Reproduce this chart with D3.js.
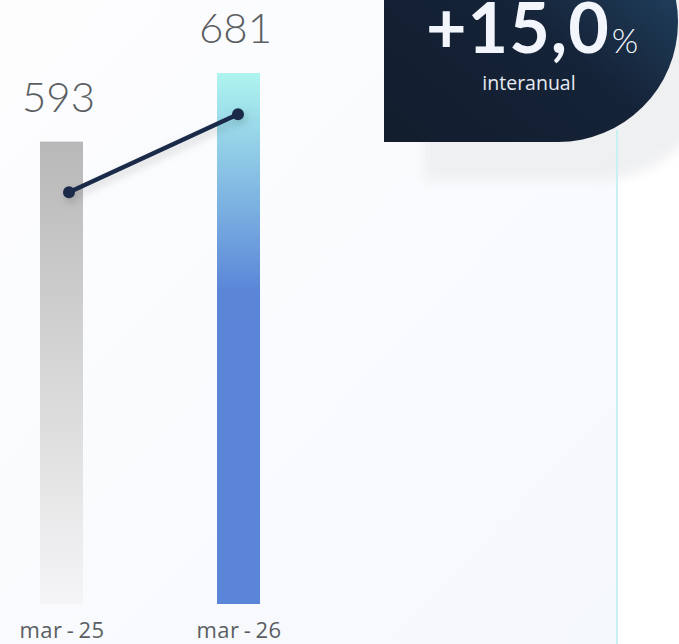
<!DOCTYPE html>
<html><head><meta charset="utf-8">
<script src="https://cdn.jsdelivr.net/npm/d3@7"></script>
<style>html,body{margin:0;padding:0;background:#fff;overflow:hidden}</style>
</head><body>
<svg id="c" width="679" height="644"></svg>
<script>
const categories = ["mar-25", "mar-26"];
const values = [593, 681];
const lineValues = [528, 628];
const badgeValue = "+15,0";
const badgeUnit = "%";
const badgeLabel = "interanual";

const W = 679, H = 644;
const svg = d3.select("#c");
const defs = svg.append("defs");

// background
const bg = defs.append("linearGradient").attr("id","bg").attr("x1","0").attr("y1","0").attr("x2","1").attr("y2","1");
bg.append("stop").attr("offset","0").attr("stop-color","#fdfdfe");
bg.append("stop").attr("offset","1").attr("stop-color","#f5f8fd");
svg.append("rect").attr("width",W).attr("height",H).attr("fill","#fff");
svg.append("rect").attr("x",0).attr("y",0).attr("width",617).attr("height",H).attr("fill","url(#bg)");

// gradients for bars
const g0 = defs.append("linearGradient").attr("id","gBar0").attr("gradientUnits","userSpaceOnUse")
  .attr("x1",0).attr("x2",0).attr("y1",141).attr("y2",604);
g0.append("stop").attr("offset","0").attr("stop-color","#b8b8b8");
g0.append("stop").attr("offset","1").attr("stop-color","#f5f5f7");
const g1 = defs.append("linearGradient").attr("id","gBar1").attr("gradientUnits","userSpaceOnUse")
  .attr("x1",0).attr("x2",0).attr("y1",73).attr("y2",604);
g1.append("stop").attr("offset","0").attr("stop-color","#aef4ef");
g1.append("stop").attr("offset","0.41").attr("stop-color","#5b86d8");
g1.append("stop").attr("offset","1").attr("stop-color","#5a85d8");

// badge gradient & shadows
const gb = defs.append("linearGradient").attr("id","gBadge").attr("x1","0").attr("y1","1").attr("x2","1").attr("y2","0");
gb.append("stop").attr("offset","0").attr("stop-color","#121d2d");
gb.append("stop").attr("offset","0.5").attr("stop-color","#152338");
gb.append("stop").attr("offset","1").attr("stop-color","#264e70");
const blur = defs.append("filter").attr("id","blur").attr("x","-30%").attr("y","-30%").attr("width","160%").attr("height","160%");
blur.append("feGaussianBlur").attr("stdDeviation",6);
const ds = defs.append("filter").attr("id","ds").attr("x","-20%").attr("y","-50%").attr("width","140%").attr("height","200%");
ds.append("feDropShadow").attr("dx",2).attr("dy",4).attr("stdDeviation",4).attr("flood-color","#000").attr("flood-opacity",0.18);

// scales
const y = d3.scaleLinear().domain([0, 681]).range([604, 73]);
const x = d3.scalePoint().domain(categories).range([61.5, 238.5]);
const xl = d3.scalePoint().domain(categories).range([69, 238]);
const bw = 43;

// badge shadow
const badgePath = "M384,-98 H558 A120,120 0 0,1 558,142 H384 Z";
svg.append("path").attr("d", badgePath).attr("transform","translate(40,38)")
  .attr("fill","#eeeff1").attr("opacity",0.9).attr("filter","url(#blur)");

// cyan vertical line
svg.append("line").attr("x1",617).attr("x2",617).attr("y1",130).attr("y2",H)
  .attr("stroke","#c9f1f3").attr("stroke-width",2);

// badge
svg.append("path").attr("d", badgePath).attr("fill","url(#gBadge)");

// bars
svg.selectAll("rect.bar").data(values).enter().append("rect").attr("class","bar")
  .attr("x",(d,i)=>x(categories[i]) - bw/2).attr("width",bw)
  .attr("y",d=>y(d)).attr("height",d=>y(0)-y(d))
  .attr("fill",(d,i)=>`url(#gBar${i})`);

// value labels
svg.selectAll("text.val").data(values).enter().append("text").attr("class","val")
  .attr("x",(d,i)=>x(categories[i]) - 3).attr("y",d=>y(d)-30)
  .attr("text-anchor","middle").attr("font-family","Lato, sans-serif").attr("font-weight",300)
  .attr("font-size",42).attr("fill","#5b5f63").text(d=>d);

// line
const lineData = lineValues.map((v,i)=>[xl(categories[i]), y(v)]);
const gl = svg.append("g").attr("filter","url(#ds)");
gl.append("path").attr("d", d3.line()(lineData)).attr("fill","none").attr("stroke","#1a2c48").attr("stroke-width",4.5);
gl.selectAll("circle").data(lineData).enter().append("circle")
  .attr("cx",d=>d[0]).attr("cy",d=>d[1]).attr("r",6).attr("fill","#1a2c48");

// x axis labels
const xAxis = d3.axisBottom(x).tickSize(0).tickPadding(0);
const ax = svg.append("g").attr("transform","translate(0,622)").call(xAxis);
ax.select(".domain").remove();
ax.selectAll("text").attr("font-family","'Open Sans', sans-serif").attr("font-size",22)
  .attr("fill","#5b5f63").attr("dy","0.71em").attr("letter-spacing","0.5px")
  .text(d=>d.replace("-","\u2009-\u2009"));

// badge text
const bt = svg.append("text").attr("x",426).attr("y",53).attr("font-family","Lato, sans-serif").attr("fill","#f2f5fb");
bt.append("tspan").attr("font-size",70).attr("font-weight",700).attr("letter-spacing","1px").text(badgeValue);
bt.append("tspan").attr("font-size",34).attr("font-weight",300).attr("dx",2).text(badgeUnit);
svg.append("text").attr("x",529).attr("y",90).attr("text-anchor","middle")
  .attr("font-family","'Open Sans', sans-serif").attr("font-size",19.5).attr("fill","#e6ebf2").text(badgeLabel);
</script>
</body></html>
